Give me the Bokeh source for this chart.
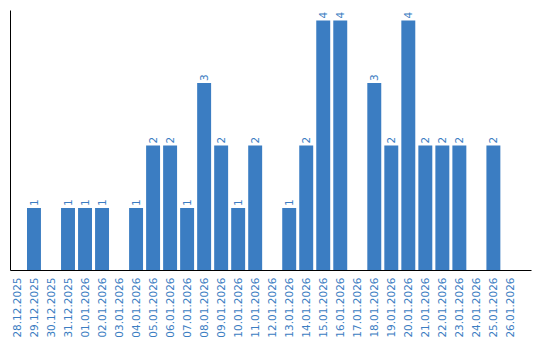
import math
from bokeh.plotting import figure
from bokeh.models import ColumnDataSource, Range1d, FixedTicker
from bokeh.core.properties import value
from bokeh.embed import file_html
from bokeh.resources import INLINE

dates = ["28.12.2025", "29.12.2025", "30.12.2025", "31.12.2025", "01.01.2026",
         "02.01.2026", "03.01.2026", "04.01.2026", "05.01.2026", "06.01.2026",
         "07.01.2026", "08.01.2026", "09.01.2026", "10.01.2026", "11.01.2026",
         "12.01.2026", "13.01.2026", "14.01.2026", "15.01.2026", "16.01.2026",
         "17.01.2026", "18.01.2026", "19.01.2026", "20.01.2026", "21.01.2026",
         "22.01.2026", "23.01.2026", "24.01.2026", "25.01.2026", "26.01.2026"]
counts = [0, 1, 0, 1, 1, 1, 0, 1, 2, 2, 1, 3, 2, 1, 2, 0, 1, 2, 4, 4,
          0, 3, 2, 4, 2, 2, 2, 0, 2, 0]

BLUE = "#3b7dc2"
idx = list(range(len(dates)))
src = ColumnDataSource(dict(x=idx, y=counts))
nz = [i for i in idx if counts[i] > 0]
lsrc = ColumnDataSource(dict(x=nz, y=[counts[i] for i in nz], lbl=[str(counts[i]) for i in nz]))

p = figure(width=540, height=340, output_backend="svg", toolbar_location=None,
           x_range=Range1d(-0.38, 30.24), y_range=Range1d(0, 4.16),
           min_border_left=10, min_border_right=9, min_border_top=10, min_border_bottom=0)
p.outline_line_color = None
p.grid.visible = False
p.background_fill_color = "white"
p.border_fill_color = "white"

p.vbar(x="x", top="y", width=0.82, source=src, fill_color=BLUE, line_color=None)
p.text(x="x", y="y", text="lbl", source=lsrc, angle=math.pi / 2,
       text_align="left", text_baseline="middle", y_offset=-2,
       text_font=value("DejaVu Sans"), text_font_size="10.5px", text_color=BLUE)

xa = p.xaxis[0]
xa.ticker = FixedTicker(ticks=idx)
xa.major_label_overrides = {i: d for i, d in enumerate(dates)}
xa.major_label_orientation = math.pi / 2
xa.major_tick_line_color = None
xa.minor_tick_line_color = None
xa.major_tick_out = 0
xa.major_tick_in = 0
xa.major_label_standoff = 7
xa.major_label_text_font = "DejaVu Sans"
xa.major_label_text_font_size = "10.5px"
xa.major_label_text_color = BLUE
xa.axis_line_color = "black"
xa.axis_line_width = 1

ya = p.yaxis[0]
ya.ticker = FixedTicker(ticks=[])
ya.major_tick_line_color = None
ya.minor_tick_line_color = None
ya.major_tick_out = 0
ya.major_tick_in = 0
ya.major_label_text_font_size = "0px"
ya.axis_line_color = "black"
ya.axis_line_width = 1

open("out.html", "w").write(file_html(p, INLINE))
